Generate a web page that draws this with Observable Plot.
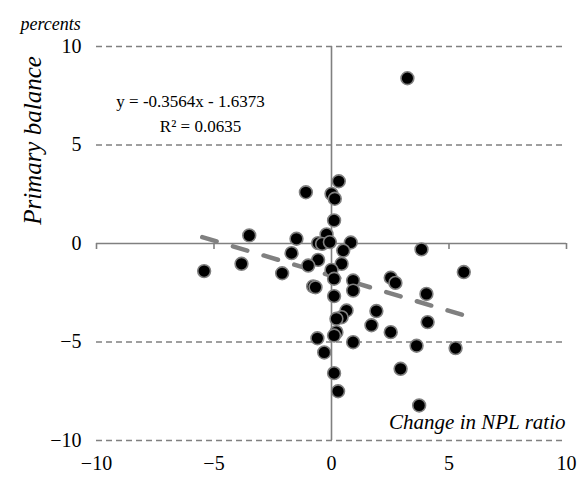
<!DOCTYPE html>
<html>
<head>
<meta charset="utf-8">
<script src="https://cdn.jsdelivr.net/npm/d3@7"></script>
<script src="https://cdn.jsdelivr.net/npm/@observablehq/plot@0.6"></script>
<style>
  html, body { margin: 0; padding: 0; background: #fff; }
  #chart { width: 582px; height: 479px; }
</style>
</head>
<body>
<div id="chart"></div>
<script>
// Change in NPL ratio (x) vs primary balance (y), percents
const nplChange = [0.31, -1.09, 0.00, 0.14, 0.11, -3.50, -1.49, -0.21, -0.57, -0.40,
  -0.07, 0.82, 3.83, -1.70, 0.50, -0.57, 0.43, -0.99, -2.10, 0.00,
  0.11, 0.92, 2.52, 2.72, 5.63, -0.78, -0.68, 0.92, 4.04, 0.11,
  1.91, 0.64, 0.43, 0.21, 4.09, 1.70, 2.52, 0.21, 0.11, -0.60,
  0.92, 3.62, 5.28, -0.31, 2.94, 0.11, 0.28, 3.73, 3.23, -5.42,
  -3.83];
const primaryBalance = [3.16, 2.60, 2.52, 2.27, 1.17, 0.41, 0.24, 0.46, 0.02, -0.02,
  0.07, 0.05, -0.30, -0.49, -0.36, -0.83, -1.03, -1.12, -1.51, -1.34,
  -1.79, -1.88, -1.74, -2.00, -1.45, -2.18, -2.22, -2.39, -2.56, -2.67,
  -3.43, -3.40, -3.74, -3.82, -3.99, -4.15, -4.50, -4.50, -4.67, -4.81,
  -5.01, -5.19, -5.31, -5.53, -6.36, -6.58, -7.50, -8.22, 8.39, -1.40,
  -1.03];
const xTicks = [-10, -5, 0, 5, 10];
const yTicks = [-10, -5, 0, 5, 10];
const gridLines = [10, 5, -5, -10];
const trendSlope = -0.3564;
const trendIntercept = -1.6373;
const equationText = "y = -0.3564x - 1.6373";
const r2Text = "R\u00B2 = 0.0635";
const unitText = "percents";
const yTitle = "Primary balance";
const xTitle = "Change in NPL ratio";

const points = nplChange.map((x, i) => ({x, y: primaryBalance[i]}));
const [xMin, xMax] = d3.extent(nplChange);
const trend = [xMin - 0.08, xMax].map(x => ({x, y: trendSlope * x + trendIntercept}));

const gray = "#808080";
const serif = "'Times New Roman', Times, 'Liberation Serif', 'DejaVu Serif', serif";

const chart = Plot.plot({
  width: 582,
  height: 479,
  marginLeft: 96,
  marginRight: 16,
  marginTop: 46,
  marginBottom: 39,
  style: {background: "#fff", color: "#000", overflow: "visible", fontFamily: serif},
  x: {domain: [-10, 10]},
  y: {domain: [-10, 10]},
  marks: [
    Plot.ruleY(gridLines, {stroke: gray, strokeWidth: 1.3, strokeDasharray: "6,4"}),
    Plot.ruleY([0], {stroke: gray, strokeWidth: 1.6}),
    Plot.ruleX([0], {stroke: gray, strokeWidth: 1.6}),
    Plot.ruleX(xTicks.filter(d => d !== 0), {x: d => d, y1: 0, y2: 0, insetBottom: -6, stroke: gray, strokeWidth: 1.6}),
    Plot.line(trend, {x: "x", y: "y", stroke: gray, strokeWidth: 4.5, strokeDasharray: "15,17", strokeLinecap: "round"}),
    Plot.dot(points, {x: "x", y: "y", r: 6.4, fill: "#000", stroke: gray, strokeWidth: 1.6}),
    Plot.axisY(yTicks, {tickSize: 0, tickPadding: 15, fontSize: 20, fontFamily: serif, label: null, fill: "#000"}),
    Plot.axisX(xTicks, {tickSize: 0, tickPadding: 15, fontSize: 20, fontFamily: serif, label: null, fill: "#000"}),
    Plot.text([unitText], {frameAnchor: "top-left", textAnchor: "start", dx: -76, dy: -29, fontSize: 18, fontFamily: serif, fontStyle: "italic", fill: "#000"}),
    Plot.text([yTitle], {frameAnchor: "left", textAnchor: "middle", rotate: -90, dx: -64, dy: -103, fontSize: 25, fontFamily: serif, fontStyle: "italic", fill: "#000"}),
    Plot.text([equationText], {frameAnchor: "top-left", textAnchor: "middle", dx: 94, dy: 48, fontSize: 17, fontFamily: serif, fill: "#000"}),
    Plot.text([r2Text], {frameAnchor: "top-left", textAnchor: "middle", dx: 104, dy: 73, fontSize: 17, fontFamily: serif, fill: "#000"}),
    Plot.text([xTitle], {frameAnchor: "bottom-right", textAnchor: "end", dx: -1, dy: -12, fontSize: 21, fontFamily: serif, fontStyle: "italic", fill: "#000"})
  ]
});
document.getElementById("chart").appendChild(chart);
</script>
</body>
</html>
